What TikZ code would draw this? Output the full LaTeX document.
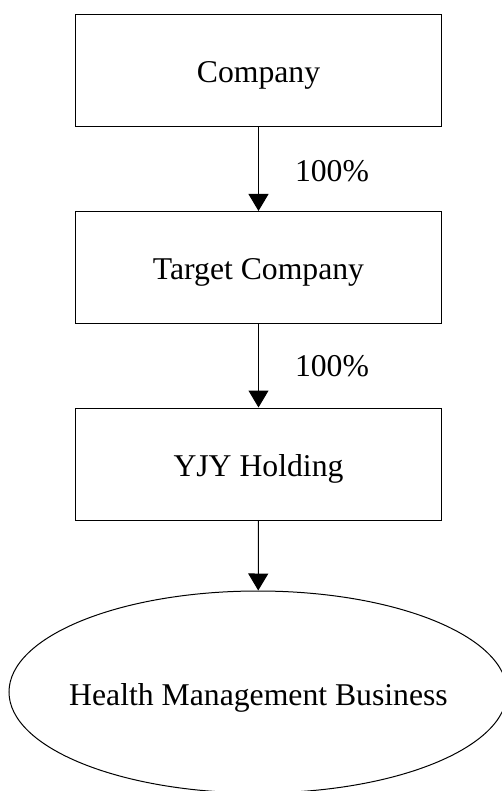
\documentclass[tikz,border=0pt]{standalone}
\usepackage{fontspec}
\setmainfont{Liberation Serif}
\usetikzlibrary{arrows.meta,shapes.geometric}
\begin{document}
\begin{tikzpicture}[x=1pt,y=-1pt,
  box/.style={draw,line width=1pt,minimum width=366pt,minimum height=112pt,inner sep=0pt,text height=24pt,text depth=0pt,font=\fontsize{31.7}{36}\selectfont},
  oval/.style={draw,ellipse,line width=1pt,minimum width=498pt,minimum height=202pt,inner sep=0pt},
  lbl/.style={font=\fontsize{31.7}{36}\selectfont,inner sep=0pt,anchor=base},
  arr/.style={line width=1pt,-{Triangle[width=20pt,length=17pt]}}]
\useasboundingbox (0,0) rectangle (502,791);
\clip (0,0) rectangle (502,791);
\node[box] (c) at (258.5,70.5) {Company};
\node[box] (t) at (258.5,267.5) {Target Company};
\node[box] (y) at (258.5,464) {YJY Holding};
\node[oval] (h) at (258,692) {};
\node[lbl] (ht) at (258.5,705) {Health Management Business};
\draw[arr] (c) -- (t);
\draw[arr] (t) -- (y);
\draw[arr] (y) -- (h);
\node[lbl] (p1) at (332,182) {100\%};
\node[lbl] (p2) at (332,376) {100\%};
\end{tikzpicture}
\end{document}
